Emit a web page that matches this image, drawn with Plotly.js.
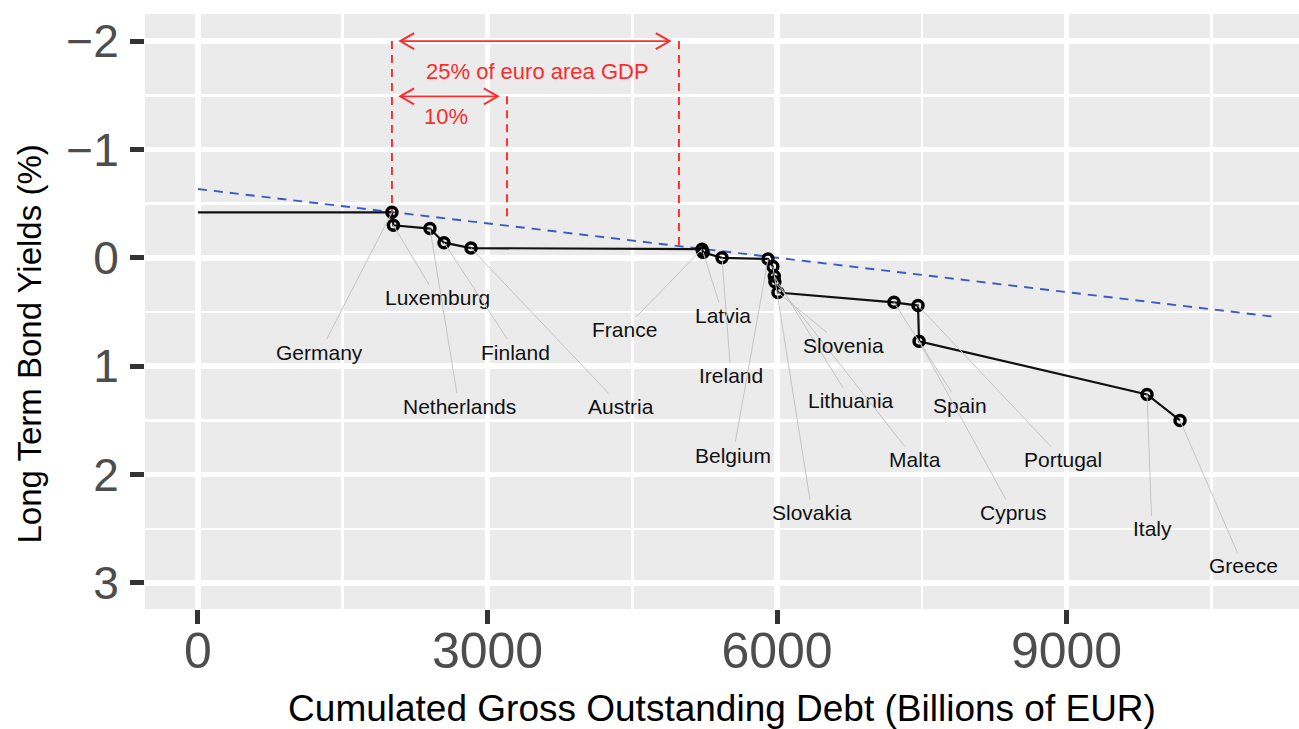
<!DOCTYPE html>
<html>
<head>
<meta charset="utf-8">
<script src="https://cdn.plot.ly/plotly-3.0.1.min.js"></script>
<style>html,body{margin:0;padding:0;background:#fff;}#chart{width:1299px;height:729px;}</style>
</head>
<body>
<div id="chart"></div>
<script>
// ---- data ----
const countries = ["Germany","Luxemburg","Netherlands","Finland","Austria","France","Latvia","Ireland","Belgium","Slovakia","Lithuania","Malta","Slovenia","Spain","Portugal","Cyprus","Italy","Greece"];
// cumulated gross outstanding debt (billions EUR)
const cumDebt = [2010,2025,2404,2549,2829,5223,5235,5430,5907,5957,5972,5978,6010,7212,7461,7472,9834,10176];
// long term bond yields (%)
const yields = [-0.42,-0.30,-0.27,-0.14,-0.09,-0.08,-0.05,0.00,0.01,0.08,0.17,0.22,0.32,0.41,0.44,0.77,1.26,1.50];
// fitted (dashed) line end points
const fitX = [0, 11180];
const fitY = [-0.635, 0.546];
// euro area GDP shares marked on the chart
const gdpShareLabels = ["25% of euro area GDP", "10%"];
const gdpShareWidth = [2974, 1192];
const xTicks = [0, 3000, 6000, 9000];
const xTickText = ["0", "3000", "6000", "9000"];
const yTicks = [-2, -1, 0, 1, 2, 3];
const yTickText = ["\u22122", "\u22121", "0", "1", "2", "3"];

// ---- label placement (layout, not data) ----
const labelPos = {
  Germany:[1264,0.87], Luxemburg:[2477,0.37], Netherlands:[2705,1.37], Finland:[3295,0.87],
  Austria:[4383,1.37], France:[4415,0.66], Latvia:[5440,0.53], Ireland:[5523,1.09],
  Belgium:[5544,1.82], Slovakia:[6363,2.35], Slovenia:[6684,0.81], Lithuania:[6767,1.32],
  Malta:[7430,1.86], Spain:[7896,1.36], Portugal:[8964,1.86], Cyprus:[8446,2.35],
  Italy:[9886,2.50], Greece:[10829,2.84]
};

const RED = "#FF2A2A";
const FONT = "Liberation Sans, Arial, sans-serif";

const traces = [
  {x: fitX, y: fitY, mode: "lines", line: {color: "#3A5BC4", width: 1.9, dash: "9px,7px"}, hoverinfo: "skip"},
  {x: [0].concat(cumDebt), y: [yields[0]].concat(yields), mode: "lines", line: {color: "#111", width: 2.2}, hoverinfo: "skip"},
  {x: cumDebt, y: yields, mode: "markers", marker: {symbol: "circle-open", size: 10, color: "#000", line: {width: 3.5, color: "#000"}}, text: countries}
];

const annotations = countries.map((c, i) => ({
  x: cumDebt[i], y: yields[i], xref: "x", yref: "y",
  ax: labelPos[c][0], ay: labelPos[c][1], axref: "x", ayref: "y",
  text: c, showarrow: true, arrowhead: 0, arrowwidth: 1, arrowcolor: "#C4C4C4",
  font: {family: FONT, size: 21, color: "#111"}
}));

// GDP share markers
const startX = cumDebt[0];
const endX = gdpShareWidth.map(w => startX + w);
const arrowY = [-2.0, -1.49];
const vTop = [-2.0, -1.49];
const vBottomEnd = [-0.11, -0.34];
const shapes = [];
shapes.push({type: "line", x0: startX, x1: startX, y0: -2.0, y1: yields[0], line: {color: RED, width: 1.9, dash: "8px,6px"}});
for (let k = 0; k < 2; k++) {
  shapes.push({type: "line", x0: endX[k], x1: endX[k], y0: vTop[k], y1: vBottomEnd[k], line: {color: RED, width: 1.9, dash: "8px,6px"}});
  const a0 = startX + 85, a1 = endX[k] - 95;
  shapes.push({type: "line", x0: a0, x1: a1, y0: arrowY[k], y1: arrowY[k], line: {color: RED, width: 1.9}});
  shapes.push({type: "path", xsizemode: "pixel", ysizemode: "pixel", xanchor: a0, yanchor: arrowY[k], path: "M14,8L0,0L14,-8", line: {color: RED, width: 1.9}});
  shapes.push({type: "path", xsizemode: "pixel", ysizemode: "pixel", xanchor: a1, yanchor: arrowY[k], path: "M-14,8L0,0L-14,-8", line: {color: RED, width: 1.9}});
  annotations.push({x: (a0 + a1) / 2 + (k === 0 ? 30 : -30), y: arrowY[k] + (k === 0 ? 0.28 : 0.19), xref: "x", yref: "y", text: gdpShareLabels[k], showarrow: false, font: {family: FONT, size: 22, color: RED}});
}

// y-axis title as an annotation (placed as in the reference)
annotations.push({xref: "paper", x: 0, xshift: -115, xanchor: "center", yanchor: "middle", yref: "y", y: 0.80, text: "Long Term Bond Yields (%)", textangle: -90, showarrow: false, font: {family: FONT, size: 33, color: "#000"}});

const layout = {
  width: 1299, height: 729,
  margin: {l: 145, r: 0, t: 14, b: 120, pad: 0},
  paper_bgcolor: "#FFFFFF", plot_bgcolor: "#EBEBEB",
  showlegend: false,
  font: {family: FONT},
  xaxis: {
    range: [-549, 11409], tickvals: xTicks, ticktext: xTickText,
    showgrid: true, gridcolor: "#FFFFFF", gridwidth: 5.5, zeroline: false,
    minor: {tickvals: [1500, 4500, 7500, 10500], showgrid: true, gridcolor: "#FFFFFF", gridwidth: 2.5, ticks: ""},
    ticks: "outside", ticklen: 14, tickwidth: 5, tickcolor: "#333333",
    ticklabelstandoff: -16,
    tickfont: {family: FONT, size: 50, color: "#4D4D4D"},
    title: {text: "Cumulated Gross Outstanding Debt (Billions of EUR)", font: {family: FONT, size: 37, color: "#000"}, standoff: 17},
    automargin: false, showline: false
  },
  yaxis: {
    range: [3.24, -2.25], tickvals: yTicks, ticktext: yTickText,
    showgrid: true, gridcolor: "#FFFFFF", gridwidth: 5.5, zeroline: false,
    minor: {tickvals: [-1.5, -0.5, 0.5, 1.5, 2.5], showgrid: true, gridcolor: "#FFFFFF", gridwidth: 2.5, ticks: ""},
    ticks: "outside", ticklen: 14, tickwidth: 5, tickcolor: "#333333",
    ticklabelstandoff: 2,
    tickfont: {family: FONT, size: 46, color: "#4D4D4D"},
    automargin: false, showline: false
  },
  shapes: shapes,
  annotations: annotations
};

Plotly.newPlot("chart", traces, layout, {displayModeBar: false, staticPlot: true});
</script>
</body>
</html>
